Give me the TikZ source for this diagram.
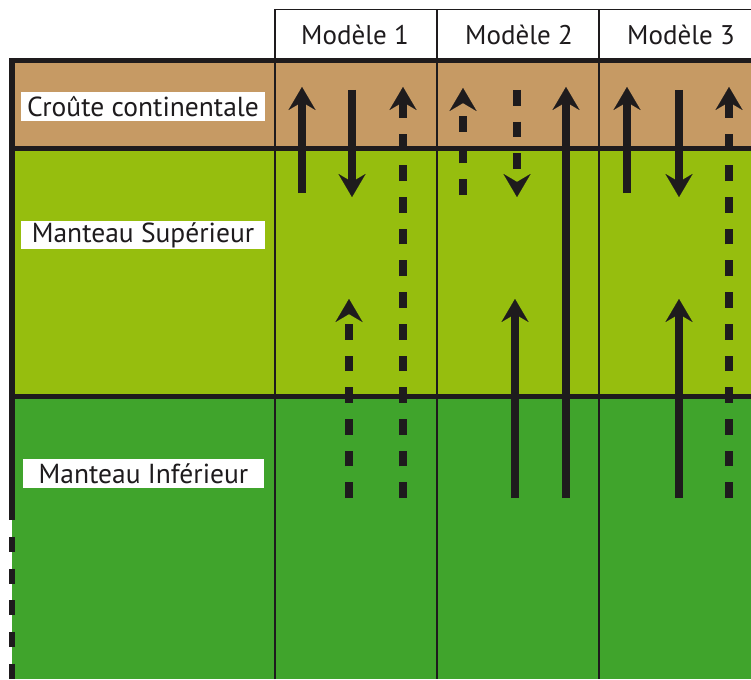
\documentclass[tikz,border=0pt]{standalone}
\usepackage{fontspec}
\setmainfont{PT Sans}
\usetikzlibrary{arrows.meta}
\definecolor{crust}{RGB}{198,154,100}
\definecolor{upperm}{RGB}{150,190,14}
\definecolor{lowerm}{RGB}{64,164,44}
\definecolor{ink}{RGB}{30,27,29}
\begin{document}
\begin{tikzpicture}[x=1pt,y=-1pt,
  thinline/.style={ink, line width=1.4pt},
  thickline/.style={ink, line width=5pt},
  shaft/.style={ink, line width=8.5pt, -{Stealth[length=23pt,width=27pt,inset=8pt,line width=0.1pt]}},
  dashshaft/.style={shaft, dash pattern=on 15.7pt off 16pt},
  lab/.style={fill=white, inner sep=0pt, minimum width=244pt, minimum height=29pt, font=\fontsize{27.5}{30}\selectfont, text=ink},
  head/.style={inner sep=0pt, font=\fontsize{27}{30}\selectfont, text=ink}]
\useasboundingbox (0,0) rectangle (751,679);
% layers
\fill[crust] (12,61) rectangle (751,149);
\fill[upperm] (12,149) rectangle (751,396);
\fill[lowerm] (12,396) rectangle (751,679);
\fill[white] (275,9.5) rectangle (751,61);
% header and column dividers
\draw[thinline] (275,679) -- (275,9.5) -- (751,9.5);
\draw[thinline] (437,9.5) -- (437,679);
\draw[thinline] (599,9.5) -- (599,679);
% thick horizontal lines
\draw[thickline] (9,61) -- (751,61);
\draw[thickline] (9,149) -- (751,149);
\draw[thickline] (9,396) -- (751,396);
% left border
\draw[ink, line width=6pt] (12,58.5) -- (12,520);
\draw[ink, line width=6pt, dash pattern=on 15pt off 16.7pt] (12,537) -- (12,679);
% headers
\node[head] (h1) at (355,35) {Modèle 1};
\node[head] (h2) at (519,35) {Modèle 2};
\node[head] (h3) at (681,35) {Modèle 3};
% arrow end points
\coordinate (a1s) at (302,193); \coordinate (a1e) at (302,87);
\coordinate (a2s) at (352,90);  \coordinate (a2e) at (352,197);
\coordinate (a3s) at (403,498); \coordinate (a3e) at (403,87);
\coordinate (a4s) at (349,498); \coordinate (a4e) at (349,299);
\coordinate (b1s) at (463,195); \coordinate (b1e) at (463,88);
\coordinate (b2s) at (517,90);  \coordinate (b2e) at (517,197);
\coordinate (b3s) at (566,498); \coordinate (b3e) at (566,87);
\coordinate (b4s) at (515,498); \coordinate (b4e) at (515,299);
\coordinate (c1s) at (627,193); \coordinate (c1e) at (627,87);
\coordinate (c2s) at (679,90);  \coordinate (c2e) at (679,197);
\coordinate (c3s) at (729,498); \coordinate (c3e) at (729,87);
\coordinate (c4s) at (679,498); \coordinate (c4e) at (679,299);
% model 1
\draw[shaft] (a1s) -- (a1e);
\draw[shaft] (a2s) -- (a2e);
\draw[dashshaft] (a3s) -- (a3e);
\draw[dashshaft] (a4s) -- (a4e);
% model 2
\draw[dashshaft] (b1s) -- (b1e);
\draw[dashshaft] (b2s) -- (b2e);
\draw[shaft] (b3s) -- (b3e);
\draw[shaft] (b4s) -- (b4e);
% model 3
\draw[shaft] (c1s) -- (c1e);
\draw[shaft] (c2s) -- (c2e);
\draw[dashshaft] (c3s) -- (c3e);
\draw[shaft] (c4s) -- (c4e);
% layer labels
\node[lab] (l1) at (143,106.5) {Croûte continentale};
\node[lab, minimum height=28pt] (l2) at (143,235) {Manteau Supérieur};
\node[lab, minimum width=241pt] (l3) at (143.5,473.5) {Manteau Inférieur};
\end{tikzpicture}
\end{document}
